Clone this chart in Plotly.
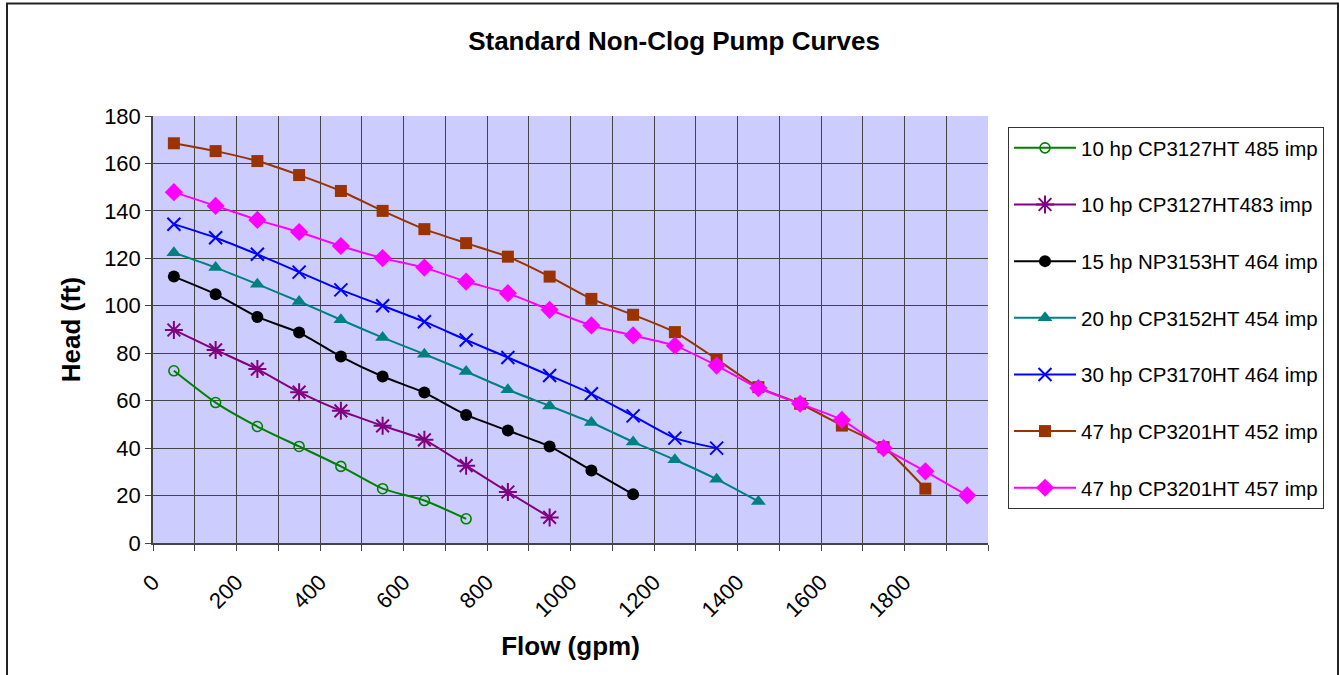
import plotly.graph_objects as go

# ---- data ----
flow_green = [50, 150, 250, 350, 450, 550, 650, 750]
head_green = [72.6, 59.2, 49.1, 40.7, 32.3, 22.9, 17.9, 10.2]

flow_purple = [50, 150, 250, 350, 450, 550, 650, 750, 850, 950]
head_purple = [89.8, 81.4, 73.3, 63.6, 55.7, 49.4, 43.5, 32.6, 21.5, 10.8]

flow_black = [50, 150, 250, 350, 450, 550, 650, 750, 850, 950, 1050, 1150]
head_black = [112.3, 104.9, 95.3, 88.7, 78.6, 70.2, 63.4, 54.0, 47.4, 40.7, 30.6, 20.5]

flow_teal = [50, 150, 250, 350, 450, 550, 650, 750, 850, 950, 1050, 1150, 1250, 1350, 1450]
head_teal = [122.4, 116.1, 109.1, 101.8, 94.1, 86.6, 79.6, 72.3, 64.6, 57.8, 50.8, 42.6, 35.1, 26.9, 17.5]

flow_blue = [50, 150, 250, 350, 450, 550, 650, 750, 850, 950, 1050, 1150, 1250, 1350]
head_blue = [134.4, 128.7, 121.7, 114.2, 106.7, 100.0, 93.3, 85.6, 78.2, 70.6, 62.9, 53.6, 44.2, 40.0]

flow_brown = [50, 150, 250, 350, 450, 550, 650, 750, 850, 950, 1050, 1150, 1250, 1350,
              1450, 1550, 1650, 1750, 1850]
head_brown = [168.5, 165.2, 161.0, 155.1, 148.4, 140.0, 132.3, 126.4, 120.7, 112.3, 102.9,
              96.2, 88.9, 77.5, 65.7, 58.7, 49.5, 40.4, 22.9]

flow_magenta = [50, 150, 250, 350, 450, 550, 650, 750, 850, 950, 1050, 1150, 1250, 1350,
                1450, 1550, 1650, 1750, 1850, 1950]
head_magenta = [147.9, 142.1, 136.2, 131.1, 125.2, 120.1, 116.1, 110.2, 105.3, 98.3, 91.7,
                87.5, 83.2, 74.8, 65.3, 58.7, 51.9, 40.0, 30.2, 20.1]

series_names = [
    "10 hp CP3127HT 485 imp",
    "10 hp CP3127HT483 imp",
    "15 hp NP3153HT 464 imp",
    "20 hp CP3152HT 454 imp",
    "30 hp CP3170HT 464 imp",
    "47 hp CP3201HT 452 imp",
    "47 hp CP3201HT 457 imp",
]

x_tick_vals = list(range(0, 2001, 100))
x_tick_text = ["0", "", "200", "", "400", "", "600", "", "800", "", "1000", "", "1200", "",
               "1400", "", "1600", "", "1800", "", ""]
y_tick_vals = [0, 20, 40, 60, 80, 100, 120, 140, 160, 180]

# ---- styles ----
styles = [
    dict(color="#008000", symbol="circle-open", size=10, lw=1.6),
    dict(color="#800080", symbol="asterisk-open", size=15, lw=2),
    dict(color="#000000", symbol="circle", size=12, lw=0),
    dict(color="#008080", symbol="triangle-up", size=13, lw=0),
    dict(color="#0000FF", symbol="x-thin-open", size=13, lw=2),
    dict(color="#993300", symbol="square", size=12, lw=0),
    dict(color="#FF00FF", symbol="diamond", size=14, lw=0),
]
data = [
    (flow_green, head_green),
    (flow_purple, head_purple),
    (flow_black, head_black),
    (flow_teal, head_teal),
    (flow_blue, head_blue),
    (flow_brown, head_brown),
    (flow_magenta, head_magenta),
]

FONT = "Liberation Sans, Arial, sans-serif"
fig = go.Figure()
for i, ((xs, ys), name, st) in enumerate(zip(data, series_names, styles)):
    fig.add_trace(go.Scatter(
        x=xs, y=ys, name=name, mode="lines+markers", legendgroup=f"g{i}",
        line=dict(color=st["color"], width=2, shape="spline", smoothing=0.6),
        marker=dict(symbol=st["symbol"], size=st["size"], color=st["color"],
                    line=dict(color=st["color"], width=st["lw"])),
    ))

W, H = 1339, 675
L, R, T, B = 153, 351, 116, 132
pw, ph = W - L - R, H - T - B

def px(xp):
    return (xp - L) / pw

def py(yp):
    return (H - B - yp) / ph

fig.add_shape(type="rect", xref="paper", yref="paper",
              x0=px(7), x1=px(1338), y0=py(690), y1=py(3.5),
              line=dict(color="#222222", width=2), fillcolor="rgba(0,0,0,0)", layer="below")

fig.update_layout(
    width=W, height=H,
    margin=dict(l=L, r=R, t=T, b=B),
    paper_bgcolor="white", plot_bgcolor="#CCCCFF",
    font=dict(family=FONT, color="black", size=22),
    title=dict(text="<b>Standard Non-Clog Pump Curves</b>", x=674 / W, xanchor="center",
               y=1 - 41 / H, yanchor="middle", font=dict(size=26, family=FONT)),
    showlegend=True,
    legend=dict(x=px(1008), xanchor="left", y=py(127), yanchor="top",
                bgcolor="white", bordercolor="#333333", borderwidth=1,
                font=dict(size=20.5, family=FONT), tracegroupgap=27,
                itemwidth=62),
    xaxis=dict(range=[0, 2000], tickvals=x_tick_vals, ticktext=x_tick_text, tickangle=-45,
               showgrid=True, gridcolor="#444444", gridwidth=1,
               ticks="outside", ticklen=6, tickcolor="#444444",
               showline=True, linecolor="#444444", linewidth=1.5, zeroline=False,
               tickfont=dict(size=22), ticklabelstandoff=10,
               title=dict(text="<b>Flow (gpm)</b>", font=dict(size=26), standoff=16)),
    yaxis=dict(range=[0, 180], tickvals=y_tick_vals,
               showgrid=True, gridcolor="#444444", gridwidth=1,
               ticks="outside", ticklen=6, tickcolor="#444444",
               showline=True, linecolor="#444444", linewidth=1.5, zeroline=False,
               tickfont=dict(size=22),
               title=dict(text="<b>Head (ft)</b>", font=dict(size=26), standoff=16)),
)

fig.write_html("out.html")
